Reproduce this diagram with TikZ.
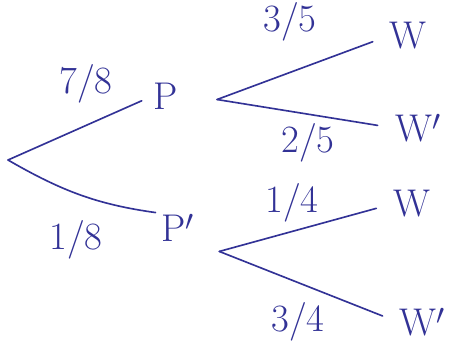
\documentclass[tikz,border=0pt]{standalone}
\definecolor{ink}{RGB}{50,50,150}
\begin{document}
\begin{tikzpicture}[x=0.03cm,y=-0.03cm,font=\fontsize{33}{38}\selectfont,
        every node/.style={text=ink,inner sep=1pt},
        branch/.style={draw=ink,line width=1.4pt,line cap=round}]
    \useasboundingbox (0,0) rectangle (457,356);
    \coordinate (r) at (8,160);
    \node (P) at (166,96) {P};
    \node (Pc) at (178,228) {P$'$};
    \node (W1) at (408,36) {W};
    \node (W2) at (418,128) {W$'$};
    \node (W3) at (412,204) {W};
    \node (W4) at (422,322) {W$'$};
    % first stage
    \draw[branch,shorten >=10pt] (r)--(P.west);
    \draw[branch,shorten >=4pt] (r)to[out=-30,in=172](Pc.north west);
    % second stage
    \foreach \a/\b/\dx/\dy in{P/W1/32/-3,P/W2/32/-3,Pc/W3/20/-20,Pc/W4/20/-20}
        \draw[branch,shorten >=14pt] ([xshift=\dx pt,yshift=\dy pt]\a.east)--(\b.west);
    % probabilities
    \node (f1) at (86,84) {7/8};
    \node (f2) at (76,240) {1/8};
    \node (f3) at (290,22) {3/5};
    \node (f4) at (308,143) {2/5};
    \node (f5) at (292,203) {1/4};
    \node (f6) at (298,322) {3/4};
\end{tikzpicture}
\end{document}
